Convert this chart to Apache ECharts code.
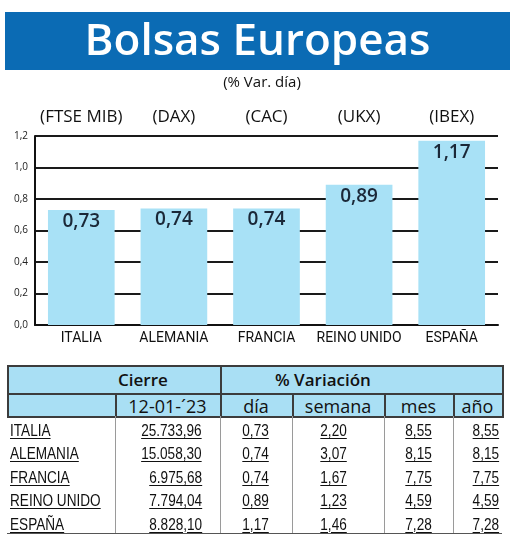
<!DOCTYPE html>
<html>
<head>
<meta charset="utf-8">
<script src="https://cdn.jsdelivr.net/npm/echarts@6/dist/echarts.min.js"></script>
<style>
  html, body { margin: 0; padding: 0; background: #fff; }
  #page { position: relative; width: 520px; height: 542px; overflow: hidden; font-family: 'Open Sans', sans-serif; color: #111; }
  #chart { position: absolute; left: 0; top: 0; width: 520px; height: 542px; }
  #title { position: absolute; left: 5px; top: 12px; width: 505px; height: 58px; background: #0b6bb4; color: #fff; font-size: 44px; font-weight: 600; line-height: 52px; text-align: center; z-index: 2; }
  #subtitle { position: absolute; left: 0; top: 71px; width: 524px; text-align: center; font-size: 15px; line-height: 20px; z-index: 2; }
  #table { position: absolute; left: 0; top: 0; width: 520px; height: 542px; z-index: 2; pointer-events: none; }
  .cell { position: absolute; white-space: nowrap; }
  .cell span { display: inline-block; }
  .line { position: absolute; }
</style>
</head>
<body>
<div id="page">
  <div id="chart"></div>
  <div id="title">Bolsas Europeas</div>
  <div id="subtitle">(% Var. día)</div>
  <div id="table"></div>
</div>
<script>
const categories = ['ITALIA', 'ALEMANIA', 'FRANCIA', 'REINO UNIDO', 'ESPAÑA'];
const indices = ['(FTSE MIB)', '(DAX)', '(CAC)', '(UKX)', '(IBEX)'];
const dayChange = [0.73, 0.74, 0.74, 0.89, 1.17];
const closeValues = [25733.96, 15058.30, 6975.68, 7794.04, 8828.10];
const weekChange = [2.20, 3.07, 1.67, 1.23, 1.46];
const monthChange = [8.55, 8.15, 7.75, 4.59, 7.28];
const yearChange = [8.55, 8.15, 7.75, 4.59, 7.28];
const closeDate = '12-01-´23';
const tableHeads = ['día', 'semana', 'mes', 'año'];

const barBlue = '#a8e1f6';

// decimales con coma, miles con punto
const fmt = (v, d) => {
  const parts = v.toFixed(d).split('.');
  parts[0] = parts[0].replace(/\B(?=(\d{3})+(?!\d))/g, '.');
  return parts.join(',');
};

const chart = echarts.init(document.getElementById('chart'));

chart.setOption({
  animation: false,
  grid: { left: 35, right: 22, top: 136, bottom: 217 },
  xAxis: [
    {
      type: 'category',
      data: categories,
      position: 'bottom',
      axisLine: { lineStyle: { color: '#111', width: 2 } },
      axisTick: { inside: true, length: 4, lineStyle: { color: '#111', width: 1.5 } },
      axisLabel: { interval: 0, margin: 6, fontSize: 14, color: '#111', fontFamily: 'Roboto' }
    },
    {
      type: 'category',
      data: indices,
      position: 'top',
      axisLine: { show: false },
      axisTick: { show: false },
      axisLabel: { interval: 0, margin: 10, fontSize: 17, color: '#111', fontFamily: 'Open Sans' }
    }
  ],
  yAxis: {
    type: 'value',
    min: 0,
    max: 1.2,
    interval: 0.2,
    axisLine: { show: true, lineStyle: { color: '#111', width: 2 } },
    axisTick: { show: false },
    axisLabel: {
      margin: 7,
      fontSize: 10,
      color: '#222',
      fontFamily: 'Open Sans',
      formatter: v => fmt(v, 1)
    },
    splitLine: { lineStyle: { color: '#1a1a1a', width: 2 } }
  },
  series: [
    {
      type: 'bar',
      data: dayChange,
      barWidth: '72%',
      itemStyle: { color: barBlue },
      label: {
        show: true,
        position: 'insideTop',
        distance: 2,
        fontSize: 19,
        fontWeight: 600,
        color: '#1b2838',
        fontFamily: 'Open Sans',
        formatter: p => fmt(p.value, 2)
      }
    }
  ]
});

// tabla inferior
const tbl = document.getElementById('table');
const colX = [7, 115, 220, 292, 384, 453, 502];
const headTop = 365, headMid = 393, headBottom = 416;
const rowTop = 419, rowH = 23.4, tableBottom = 533;

const addLine = (x, y, w, h, color) => {
  const d = document.createElement('div');
  d.className = 'line';
  Object.assign(d.style, { left: x + 'px', top: y + 'px', width: w + 'px', height: h + 'px', background: color });
  tbl.appendChild(d);
};
const addText = (txt, x0, x1, top, h, opts) => {
  const d = document.createElement('div');
  d.className = 'cell';
  const s = document.createElement('span');
  s.textContent = txt;
  const align = opts.align || 'center';
  Object.assign(d.style, {
    left: x0 + 'px', width: (x1 - x0) + 'px', top: top + 'px', height: h + 'px', lineHeight: h + 'px',
    textAlign: align, fontSize: opts.size + 'px', fontFamily: opts.font || "'Open Sans'",
    fontWeight: opts.weight || 400, boxSizing: 'border-box',
    paddingLeft: (opts.pl || 0) + 'px', paddingRight: (opts.pr || 0) + 'px'
  });
  Object.assign(s.style, {
    textDecoration: opts.underline ? 'underline' : 'none', textUnderlineOffset: '2px',
    transform: opts.squeeze ? `scaleX(${opts.squeeze})` : 'none',
    transformOrigin: align === 'left' ? 'left center' : align === 'right' ? 'right center' : 'center center'
  });
  d.appendChild(s);
  tbl.appendChild(d);
};

// fondo de cabecera
const hb = document.createElement('div');
Object.assign(hb.style, { position: 'absolute', left: colX[0] + 'px', top: headTop + 'px', width: (colX[6] - colX[0]) + 'px', height: (headBottom - headTop) + 'px', background: '#a9dff4' });
tbl.appendChild(hb);

const dark = '#3c3c3c';
addLine(colX[0], headTop, colX[6] - colX[0], 1.5, dark);
addLine(colX[0], headMid, colX[6] - colX[0], 1.5, dark);
addLine(colX[0], headBottom, colX[6] - colX[0], 1.5, dark);
addLine(colX[0], headTop, 1.5, headBottom - headTop, dark);
addLine(colX[6], headTop, 1.5, headBottom - headTop + 1.5, dark);
addLine(colX[2], headTop, 1.5, headBottom - headTop, dark);
[1, 3, 4, 5].forEach(i => addLine(colX[i], headMid, 1.5, headBottom - headMid, dark));
[1, 2, 3, 4, 5].forEach(i => addLine(colX[i], headBottom, 1, tableBottom - headBottom, '#9a9a9a'));
addLine(colX[0], tableBottom, colX[6] - colX[0], 1, '#555');

addText('Cierre', colX[0], colX[2], headTop + 1, 28, { size: 17, weight: 600, align: 'left', pl: 111 });
addText('% Variación', colX[2], colX[6], headTop + 1, 28, { size: 17, weight: 600, align: 'left', pl: 55 });
addText(closeDate, colX[1], colX[2], headMid + 2, 23, { size: 18 });
tableHeads.forEach((h, i) => addText(h, colX[i + 2], colX[i + 3], headMid + 2, 23, { size: 18 }));

categories.forEach((c, r) => {
  const top = rowTop + r * rowH;
  const o = { size: 17, font: "'Liberation Sans'", underline: true, squeeze: 0.8 };
  addText(c, colX[0], colX[1], top, rowH, { ...o, align: 'left', pl: 3 });
  addText(fmt(closeValues[r], 2), colX[1], colX[2], top, rowH, { ...o, align: 'right', pr: 18 });
  addText(fmt(dayChange[r], 2), colX[2], colX[3], top, rowH, o);
  addText(fmt(weekChange[r], 2), colX[3], colX[4], top, rowH, { ...o, pr: 8 });
  addText(fmt(monthChange[r], 2), colX[4], colX[5], top, rowH, o);
  addText(fmt(yearChange[r], 2), colX[5], colX[6], top, rowH, { ...o, align: 'right', pr: 3 });
});
</script>
</body>
</html>
